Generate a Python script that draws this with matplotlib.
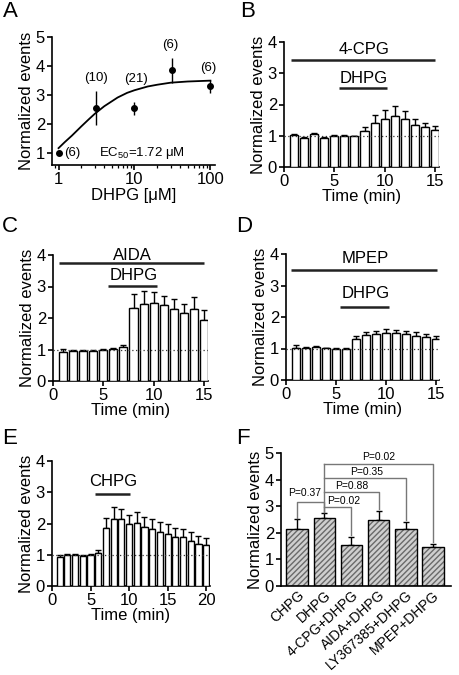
import matplotlib
matplotlib.use('Agg')
import matplotlib.pyplot as plt
import numpy as np

plt.rcParams['font.family'] = ['Liberation Sans', 'DejaVu Sans']
plt.rcParams['mathtext.fontset'] = 'custom'
plt.rcParams['mathtext.rm'] = 'Liberation Sans'
plt.rcParams['axes.linewidth'] = 1.2
plt.rcParams['xtick.major.width'] = 1.2
plt.rcParams['ytick.major.width'] = 1.2
plt.rcParams['xtick.major.size'] = 3.5
plt.rcParams['ytick.major.size'] = 3.5
plt.rcParams['xtick.labelsize'] = 12
plt.rcParams['ytick.labelsize'] = 12
plt.rcParams['axes.labelsize'] = 12

# panel A: dose response
dose = [1.0, 3.16, 10.0, 31.6, 100.0]
dose_resp = [1.0, 2.57, 2.55, 3.85, 3.3]
dose_err = [0.03, 0.58, 0.23, 0.44, 0.23]
dose_n = ['(6)', '(10)', '(21)', '(6)', '(6)']
fit_x = [1.0, 1.2, 1.5, 2.0, 2.5, 3.0, 4.0, 6.0, 8.0, 10, 15, 20, 30, 50, 100]
fit_y = [1.18, 1.38, 1.61, 1.93, 2.17, 2.36, 2.62, 2.92, 3.08, 3.17, 3.30, 3.36, 3.43, 3.47, 3.50]

# panel B: 4-CPG + DHPG
t15 = list(range(1, 16))
b_mean = [1.02, 0.93, 1.06, 0.93, 1.0, 0.99, 0.98, 1.16, 1.41, 1.54, 1.62, 1.54, 1.35, 1.28, 1.18]
b_err = [0.03, 0.03, 0.04, 0.03, 0.01, 0.03, 0.02, 0.12, 0.24, 0.30, 0.33, 0.26, 0.19, 0.13, 0.14]

# panel C: AIDA + DHPG
c_mean = [0.92, 0.95, 0.95, 0.96, 1.0, 1.03, 1.08, 2.33, 2.45, 2.48, 2.40, 2.29, 2.15, 2.28, 1.95]
c_err = [0.09, 0.04, 0.05, 0.02, 0.01, 0.03, 0.07, 0.43, 0.42, 0.35, 0.30, 0.30, 0.31, 0.40, 0.31]

# panel D: MPEP + DHPG
d_mean = [1.02, 1.03, 1.04, 1.01, 1.0, 1.0, 1.31, 1.42, 1.45, 1.50, 1.48, 1.46, 1.41, 1.35, 1.31]
d_err = [0.08, 0.03, 0.03, 0.01, 0.01, 0.01, 0.09, 0.10, 0.11, 0.11, 0.11, 0.10, 0.10, 0.10, 0.09]

# panel E: CHPG
t20 = list(range(1, 21))
e_mean = [0.94, 0.99, 0.99, 0.95, 1.0, 1.05, 1.86, 2.16, 2.14, 1.97, 2.02, 1.89, 1.82, 1.72, 1.67,
          1.57, 1.57, 1.45, 1.34, 1.31]
e_err = [0.04, 0.03, 0.04, 0.03, 0.01, 0.10, 0.32, 0.37, 0.31, 0.30, 0.35, 0.32, 0.34, 0.33, 0.30,
         0.29, 0.27, 0.28, 0.26, 0.23]

# panel F: summary
f_labels = ['CHPG', 'DHPG', '4-CPG+DHPG', 'AIDA+DHPG', 'LY367385+DHPG', 'MPEP+DHPG']
f_mean = [2.15, 2.56, 1.54, 2.49, 2.16, 1.48]
f_err = [0.38, 0.20, 0.29, 0.33, 0.23, 0.10]
p_labels = ['P=0.37', 'P=0.02', 'P=0.88', 'P=0.35', 'P=0.02']

W, H = 459, 675
fig = plt.figure(figsize=(W / 100, H / 100), dpi=100)


def box(l, r, t, b):
    return [l / W, 1 - b / H, (r - l) / W, (b - t) / H]


def style(ax):
    for s in ('top', 'right'):
        ax.spines[s].set_visible(False)
    ax.tick_params(direction='out', pad=1.5)


def letter(x, y, s):
    fig.text(x / W, 1 - y / H, s, fontsize=16, va='top', ha='left')


def timecourse(ax, t, mean, err, xmax, xticks):
    ax.bar(t, mean, width=0.8, color='white', edgecolor='black', linewidth=1.0, zorder=3)
    ax.errorbar(t, mean, yerr=[[0] * len(t), err], fmt='none', ecolor='black',
                elinewidth=1.0, capsize=2.5, capthick=1.0, zorder=2)
    ax.axhline(1, color='#333333', linewidth=0.9, linestyle=(0, (1, 2)), zorder=4)
    ax.set_xlim(0, xmax)
    ax.set_ylim(0, 4)
    ax.set_xticks(xticks)
    ax.set_yticks([0, 1, 2, 3, 4])
    ax.set_xlabel('Time (min)', labelpad=0)
    ax.set_ylabel('Normalized events', labelpad=1)
    style(ax)


def drug(ax, x0, x1, y, label, ty):
    ax.plot([x0, x1], [y, y], color='#222222', linewidth=1.8, clip_on=False, solid_capstyle='butt')
    ax.text((x0 + x1) / 2 + 0.1, ty, label, fontsize=12, ha='center', va='center')


# A
axA = fig.add_axes(box(52, 215, 37, 165))
axA.plot(fit_x, fit_y, color='black', linewidth=1.3)
axA.errorbar(dose, dose_resp, yerr=dose_err, fmt='o', color='black', ms=4, elinewidth=1.0, capsize=0)
axA.set_xscale('log')
axA.set_xlim(0.82, 115)
axA.set_ylim(0.6, 5)
axA.set_yticks([1, 2, 3, 4, 5])
axA.set_xticks([1, 10, 100])
axA.set_xticklabels(['1', '10', '100'])
axA.tick_params(which='minor', length=2, width=0.9)
axA.set_xlabel('DHPG [μM]', labelpad=1)
axA.set_ylabel('Normalized events', labelpad=1)
style(axA)
n_pos = [(1.5, 1.0), (3.1, 3.6), (10.6, 3.56), (30.0, 4.73), (95.0, 3.92)]
for s, (x, y) in zip(dose_n, n_pos):
    axA.text(x, y, s, fontsize=9.5, ha='center', va='center')
axA.text(12.5, 1.0, 'EC$_{50}$=1.72 μM', fontsize=9.5, ha='center', va='center')
letter(3, 1, 'A')

# B
axB = fig.add_axes(box(284, 439, 42, 167))
timecourse(axB, t15, b_mean, b_err, 15.4, [0, 5, 10, 15])
drug(axB, 0.69, 15.0, 3.43, '4-CPG', 3.75)
drug(axB, 5.5, 10.2, 2.52, 'DHPG', 2.84)
letter(240, 1, 'B')

# C
axC = fig.add_axes(box(53, 208, 255, 381))
timecourse(axC, t15, c_mean, c_err, 15.4, [0, 5, 10, 15])
drug(axC, 0.6, 15.0, 3.76, 'AIDA', 4.0)
drug(axC, 5.48, 10.3, 3.01, 'DHPG', 3.36)
letter(2, 216, 'C')

# D
axD = fig.add_axes(box(286, 439, 254, 380))
timecourse(axD, t15, d_mean, d_err, 15.3, [0, 5, 10, 15])
drug(axD, 0.53, 15.1, 3.48, 'MPEP', 3.87)
drug(axD, 5.37, 10.33, 2.33, 'DHPG', 2.76)
letter(236, 216, 'D')

# E
axE = fig.add_axes(box(52, 210, 461, 586))
timecourse(axE, t20, e_mean, e_err, 20.5, [0, 5, 10, 15, 20])
drug(axE, 5.53, 10.15, 2.93, 'CHPG', 3.33)
letter(2, 428, 'E')

# F
axF = fig.add_axes(box(281, 451, 453, 586))
xf = np.arange(len(f_labels))
axF.bar(xf, f_mean, width=0.8, color='#cfcfcf', edgecolor='#6a6a6a', hatch='//////', linewidth=0, zorder=2)
axF.bar(xf, f_mean, width=0.8, fill=False, edgecolor='black', linewidth=1.0, zorder=3)
axF.errorbar(xf, f_mean, yerr=[[0] * len(xf), f_err], fmt='none', ecolor='black',
             elinewidth=1.0, capsize=2.5, capthick=1.0, zorder=1)
axF.set_xlim(-0.6, 5.67)
axF.set_ylim(0, 5)
axF.set_yticks([0, 1, 2, 3, 4, 5])
axF.set_xticks(xf)
axF.set_xticklabels(f_labels, rotation=42, ha='right', rotation_mode='anchor', fontsize=10)
axF.tick_params(axis='x', length=0, pad=2)
axF.set_ylabel('Normalized events', labelpad=1)
style(axF)

gray = '#777777'
# CHPG vs DHPG
axF.plot([0, 0, 1, 1], [2.55, 3.14, 3.14, 2.78], color=gray, linewidth=1.0, clip_on=False)
# DHPG vs the rest
axF.plot([1, 1], [2.78, 4.59], color=gray, linewidth=1.0, clip_on=False)
brackets = [(5, 4.59, 1.65), (4, 4.05, 2.47), (3, 3.52, 2.91), (2, 2.97, 1.9)]
for i, y, yl in brackets:
    axF.plot([1, i, i], [y, y, yl], color=gray, linewidth=1.0, clip_on=False)
p_pos = [(0.28, 3.48), (1.72, 3.2), (2.02, 3.76), (2.57, 4.29), (3.0, 4.85)]
for s, (x, y) in zip(p_labels, p_pos):
    axF.text(x, y, s, fontsize=7.5, ha='center', va='center')
letter(236, 428, 'F')

fig.savefig('out.png', dpi=100)
